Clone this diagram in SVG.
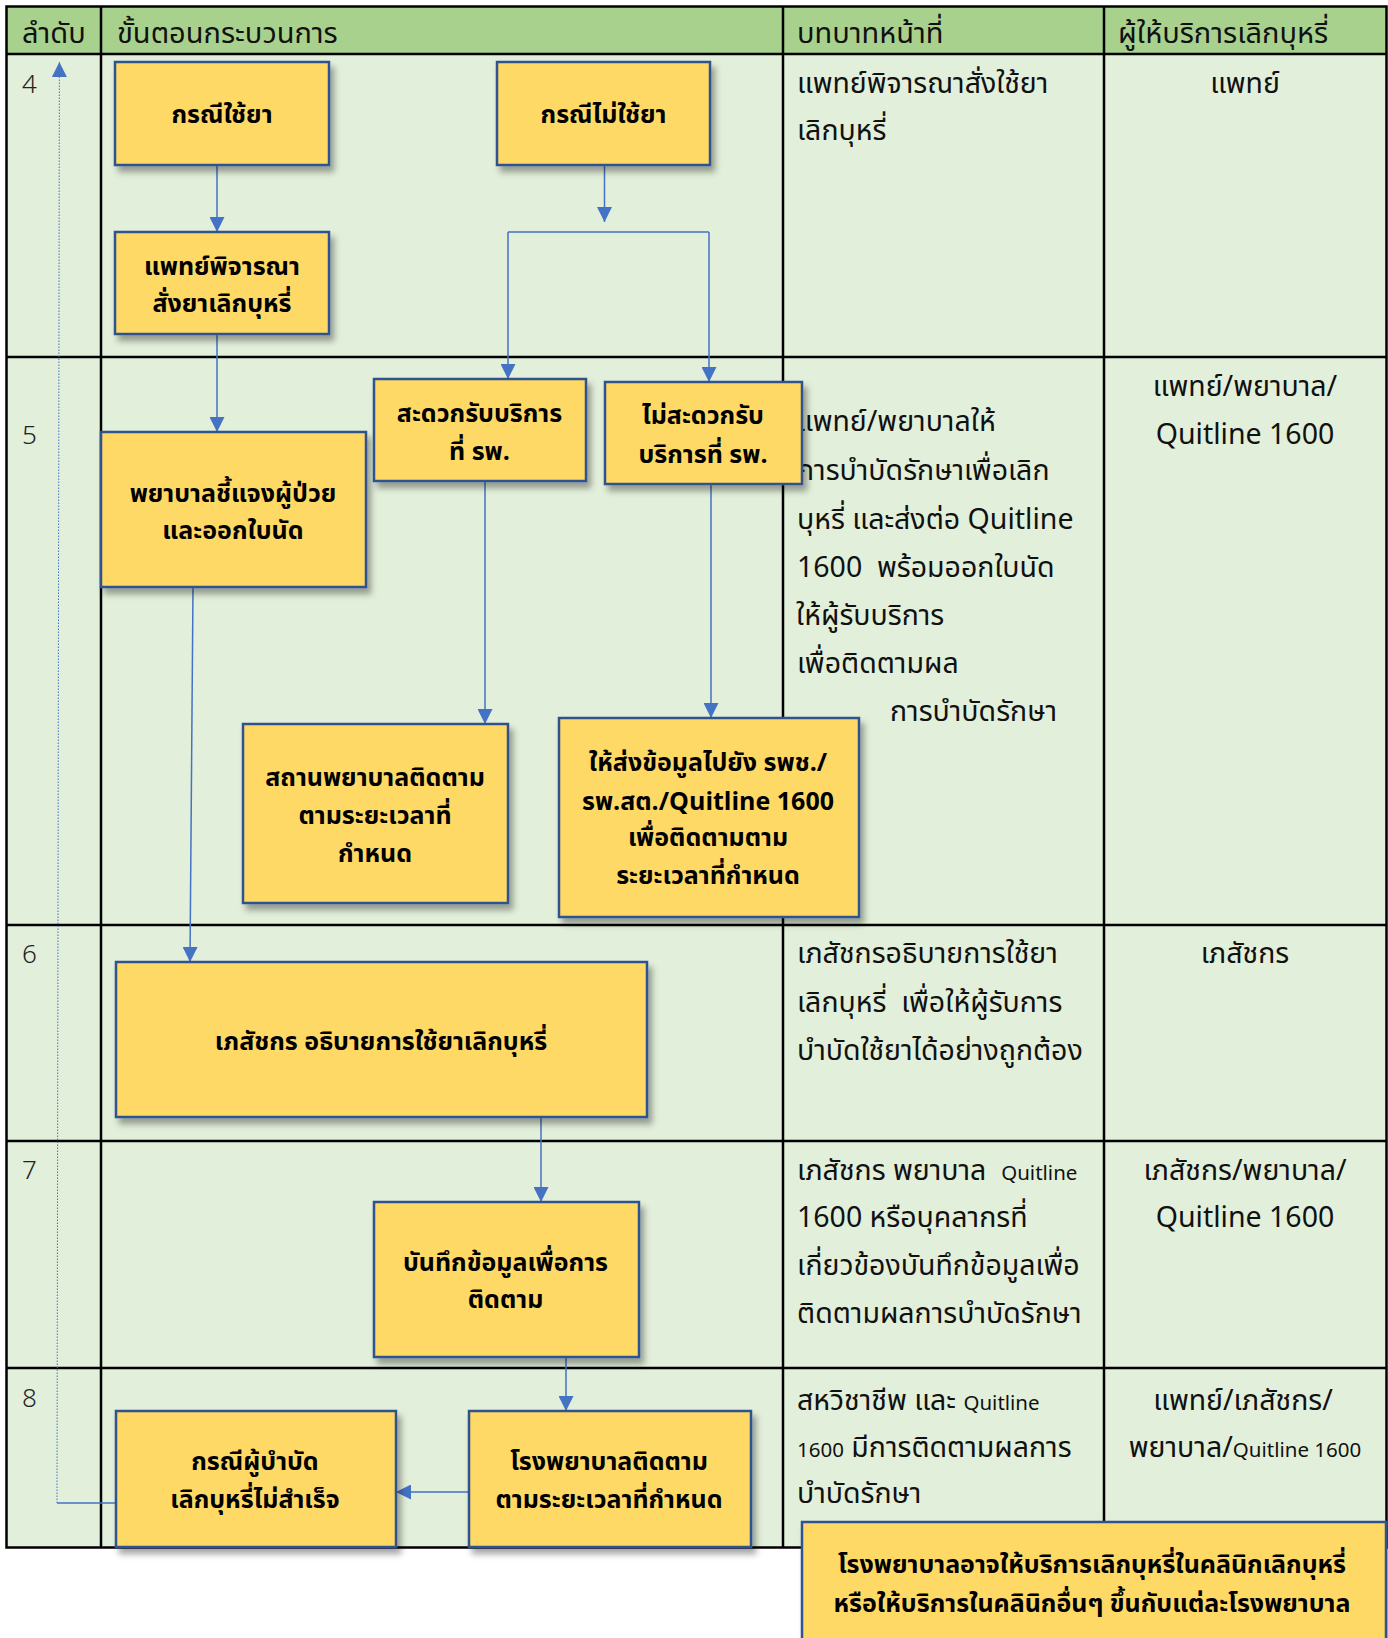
<svg xmlns="http://www.w3.org/2000/svg" width="1388" height="1638" viewBox="0 0 1388 1638">
<defs>
<style>
.hdr{font-family:"Noto Sans Thai","Noto Sans","Liberation Sans",sans-serif;font-size:29px;fill:#111}
.txt{font-family:"Noto Sans Thai","Noto Sans","Liberation Sans",sans-serif;font-size:28.5px;fill:#111}
.sm{font-size:20.5px}
.num{font-family:"Noto Sans","Liberation Sans",sans-serif;font-size:26px;fill:#222;font-weight:300}
.ctr{text-anchor:middle}
.bt{font-family:"Noto Sans Thai","Noto Sans","Liberation Sans",sans-serif;font-size:25px;font-weight:bold;fill:#000;text-anchor:middle}
.box{fill:#FFD966;stroke:#2F528F;stroke-width:2.5;filter:url(#sh)}
.line{fill:none;stroke:#000;stroke-width:2.5}
.con{fill:none;stroke:#4472C4;stroke-width:1.5}
.dot{fill:none;stroke:#4472C4;stroke-width:1;stroke-dasharray:1.5 1.5}
</style>
<filter id="sh" x="-10%" y="-10%" width="130%" height="140%">
<feDropShadow dx="4" dy="6" stdDeviation="3" flood-color="#000" flood-opacity="0.35"/>
</filter>
<marker id="ah" markerUnits="userSpaceOnUse" markerWidth="15" markerHeight="15" refX="15" refY="7.5" orient="auto">
<path d="M0,0 L15,7.5 L0,15 z" fill="#4472C4"/>
</marker>
</defs>

<g id="table">
<rect x="6.5" y="6.5" width="1380" height="48" fill="#A9D18E"/>
<rect x="6.5" y="54" width="1380" height="1493" fill="#E2EFDA"/>
<rect x="6.5" y="6.5" width="1380" height="1541" class="line"/>
<path class="line" d="M6.5,54H1386.5M6.5,357H1386.5M6.5,925H1386.5M6.5,1141H1386.5M6.5,1368H1386.5M101,6.5V1547.5M783,6.5V1547.5M1104,6.5V1547.5"/>
<text class="hdr" x="22" y="43">ลำดับ</text>
<text class="hdr" x="117" y="43">ขั้นตอนกระบวนการ</text>
<text class="hdr" x="797" y="43">บทบาทหน้าที่</text>
<text class="hdr" x="1118" y="43">ผู้ให้บริการเลิกบุหรี่</text>
<text class="num" x="22" y="93">4</text>
<text class="num" x="22" y="444">5</text>
<text class="num" x="22" y="963">6</text>
<text class="num" x="22" y="1179">7</text>
<text class="num" x="22" y="1407">8</text>
</g>

<g id="roles">
<text class="txt" x="797" y="93">แพทย์พิจารณาสั่งใช้ยา</text>
<text class="txt" x="797" y="140">เลิกบุหรี่</text>
<text class="txt" x="797" y="431">แพทย์/พยาบาลให้</text>
<text class="txt" x="797" y="480">การบำบัดรักษาเพื่อเลิก</text>
<text class="txt" x="797" y="529">บุหรี่ และส่งต่อ Quitline</text>
<text class="txt" x="797" y="577">1600&#160;&#160;พร้อมออกใบนัด</text>
<text class="txt" x="796" y="625">ให้ผู้รับบริการ</text>
<text class="txt" x="797" y="673">เพื่อติดตามผล</text>
<text class="txt" x="890" y="721">การบำบัดรักษา</text>
<text class="txt" x="797" y="963">เภสัชกรอธิบายการใช้ยา</text>
<text class="txt" x="797" y="1012">เลิกบุหรี่&#160;&#160;เพื่อให้ผู้รับการ</text>
<text class="txt" x="797" y="1060">บำบัดใช้ยาได้อย่างถูกต้อง</text>
<text class="txt" x="797" y="1180">เภสัชกร พยาบาล&#160;&#160;<tspan class="sm">Quitline</tspan></text>
<text class="txt" x="797" y="1227">1600 หรือบุคลากรที่</text>
<text class="txt" x="797" y="1275">เกี่ยวข้องบันทึกข้อมูลเพื่อ</text>
<text class="txt" x="797" y="1323">ติดตามผลการบำบัดรักษา</text>
<text class="txt" x="797" y="1410">สหวิชาชีพ และ <tspan class="sm">Quitline</tspan></text>
<text class="txt" x="797" y="1457"><tspan class="sm">1600</tspan> มีการติดตามผลการ</text>
<text class="txt" x="797" y="1503">บำบัดรักษา</text>
</g>

<g id="providers">
<text class="txt ctr" x="1245" y="93">แพทย์</text>
<text class="txt ctr" x="1245" y="396">แพทย์/พยาบาล/</text>
<text class="txt ctr" x="1245" y="444">Quitline 1600</text>
<text class="txt ctr" x="1245" y="963">เภสัชกร</text>
<text class="txt ctr" x="1245" y="1180">เภสัชกร/พยาบาล/</text>
<text class="txt ctr" x="1245" y="1227">Quitline 1600</text>
<text class="txt ctr" x="1243" y="1410">แพทย์/เภสัชกร/</text>
<text class="txt ctr" x="1245" y="1457">พยาบาล/<tspan class="sm">Quitline 1600</tspan></text>
</g>

<g id="connectors">
<path class="con" marker-end="url(#ah)" d="M217,165V232"/>
<path class="con" marker-end="url(#ah)" d="M604.5,165V222"/>
<path class="con" d="M508,232H709"/>
<path class="con" marker-end="url(#ah)" d="M508,232V379"/>
<path class="con" marker-end="url(#ah)" d="M709,232V382"/>
<path class="con" marker-end="url(#ah)" d="M217,334V432"/>
<path class="con" marker-end="url(#ah)" d="M485,481V724"/>
<path class="con" marker-end="url(#ah)" d="M711,484V718"/>
<path class="con" marker-end="url(#ah)" d="M193,587L190,962"/>
<path class="con" marker-end="url(#ah)" d="M541,1117V1202"/>
<path class="con" marker-end="url(#ah)" d="M566,1357V1411"/>
<path class="con" marker-end="url(#ah)" d="M469,1492H396"/>
<path class="con" d="M116,1503H57"/>
<path class="dot" marker-end="url(#ah)" d="M57,1503L59.4,62"/>
</g>

<g id="n1"><rect class="box" x="115" y="62" width="214" height="103"/><text class="bt" x="222" y="123">กรณีใช้ยา</text></g>
<g id="n2"><rect class="box" x="497" y="62" width="213" height="103"/><text class="bt" x="603.5" y="123">กรณีไม่ใช้ยา</text></g>
<g id="n3"><rect class="box" x="115" y="232" width="214" height="102"/><text class="bt" x="222" y="275">แพทย์พิจารณา</text><text class="bt" x="222" y="312">สั่งยาเลิกบุหรี่</text></g>
<g id="n4"><rect class="box" x="101" y="432" width="265" height="155"/><text class="bt" x="233" y="502">พยาบาลชี้แจงผู้ป่วย</text><text class="bt" x="233" y="539">และออกใบนัด</text></g>
<g id="n5"><rect class="box" x="374" y="379" width="212" height="102"/><text class="bt" x="479.5" y="422">สะดวกรับบริการ</text><text class="bt" x="479.5" y="460">ที่ รพ.</text></g>
<g id="n6"><rect class="box" x="605" y="382" width="197" height="102"/><text class="bt" x="703" y="424">ไม่สะดวกรับ</text><text class="bt" x="703" y="463">บริการที่ รพ.</text></g>
<g id="n7"><rect class="box" x="243" y="724" width="265" height="179"/><text class="bt" x="375" y="786">สถานพยาบาลติดตาม</text><text class="bt" x="375" y="824">ตามระยะเวลาที่</text><text class="bt" x="375" y="862">กำหนด</text></g>
<g id="n8"><rect class="box" x="559" y="718" width="300" height="199"/><text class="bt" x="708" y="771">ให้ส่งข้อมูลไปยัง รพช./</text><text class="bt" x="708" y="810">รพ.สต./Quitline 1600</text><text class="bt" x="708" y="846">เพื่อติดตามตาม</text><text class="bt" x="708" y="884">ระยะเวลาที่กำหนด</text></g>
<g id="n9"><rect class="box" x="116" y="962" width="531" height="155"/><text class="bt" x="381" y="1050">เภสัชกร อธิบายการใช้ยาเลิกบุหรี่</text></g>
<g id="n10"><rect class="box" x="374" y="1202" width="265" height="155"/><text class="bt" x="505.5" y="1271">บันทึกข้อมูลเพื่อการ</text><text class="bt" x="505.5" y="1308">ติดตาม</text></g>
<g id="n11"><rect class="box" x="116" y="1411" width="280" height="136"/><text class="bt" x="255" y="1470">กรณีผู้บำบัด</text><text class="bt" x="255" y="1508">เลิกบุหรี่ไม่สำเร็จ</text></g>
<g id="n12"><rect class="box" x="469" y="1411" width="282" height="136"/><text class="bt" x="609" y="1470">โรงพยาบาลติดตาม</text><text class="bt" x="609" y="1508">ตามระยะเวลาที่กำหนด</text></g>
<g id="n13"><rect class="box" x="802" y="1522" width="584" height="130"/><text class="bt" x="1092" y="1573">โรงพยาบาลอาจให้บริการเลิกบุหรี่ในคลินิกเลิกบุหรี่</text><text class="bt" x="1092" y="1612">หรือให้บริการในคลินิกอื่นๆ ขึ้นกับแต่ละโรงพยาบาล</text></g>
</svg>
